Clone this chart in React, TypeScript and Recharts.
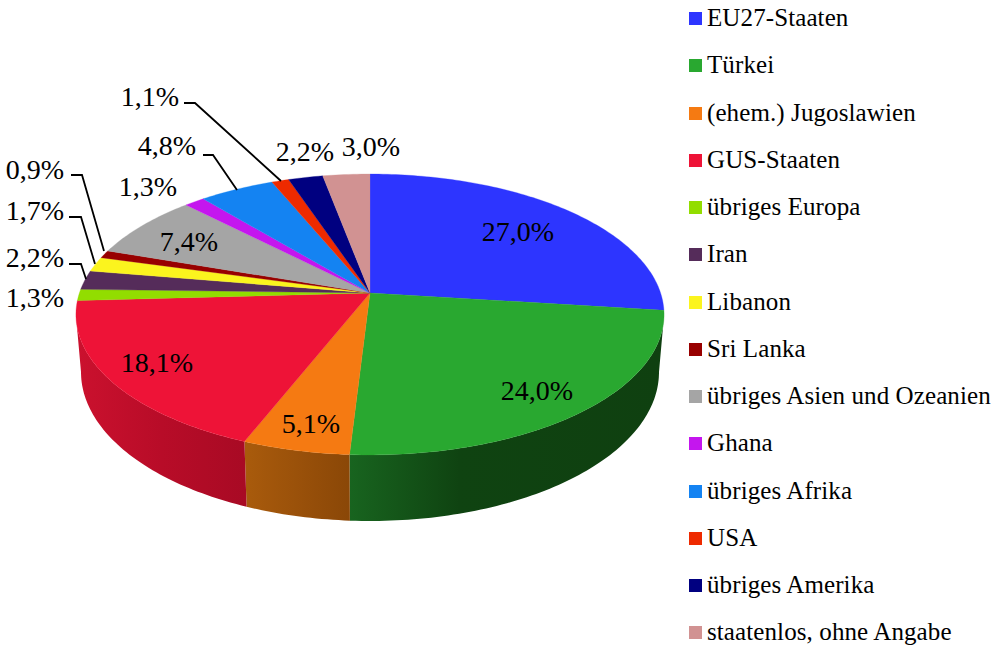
import React from 'react';
import { PieChart, Pie, Legend } from 'recharts';

const NAMES = [
  'EU27-Staaten',
  'Türkei',
  '(ehem.) Jugoslawien',
  'GUS-Staaten',
  'übriges Europa',
  'Iran',
  'Libanon',
  'Sri Lanka',
  'übriges Asien und Ozeanien',
  'Ghana',
  'übriges Afrika',
  'USA',
  'übriges Amerika',
  'staatenlos, ohne Angabe',
];
const SHARES = [27.0, 24.0, 5.1, 18.1, 1.3, 2.2, 1.7, 0.9, 7.4, 1.3, 4.8, 1.1, 2.2, 3.0];
const COLORS = [
  '#2d35ff', '#29a830', '#f57a12', '#ee1337', '#92dd00', '#552c5a', '#fbf41e',
  '#980000', '#a5a5a5', '#c416ee', '#1483f2', '#ee2a00', '#000080', '#d19292',
];

// side wall shading, only the front slices show a wall
const WALL_SHADES: Record<string, [string, string, string]> = {
  'Türkei': ['#18641f', '#0f4311', '#0f4010'],
  '(ehem.) Jugoslawien': ['#a95b0c', '#9a510a', '#8a4707'],
  'GUS-Staaten': ['#cb112e', '#b80c28', '#a80a24'],
};

// label anchor (centre x, baseline y) for each slice
const LABEL_POS: [number, number][] = [
  [518, 241], [537, 400], [311, 433], [157, 372], [35, 307], [35, 267], [35, 220],
  [35, 179], [189, 251], [148, 196], [167, 155], [150, 106], [305, 161], [371, 156],
];
const LEADERS: Record<number, string> = {
  5: '69,264 81,264 86,279',
  6: '69,217 81,217 95,264',
  7: '71,175 82,175 104,251',
  10: '203,155 213,155 237,190',
  11: '184,103 195,103 281,181',
};

const FONT = '"Liberation Serif", serif';
const tableData = NAMES.map((name, i) => ({ name, value: SHARES[i], fill: COLORS[i] }));

// tilted disc: apex is off the ellipse centre because of the perspective
const TILT_B = 0.472;
const TILT_K = 0.153;
const RIM = { rx: 294, cyOff: 21, ry: 141 };
const BASE = { rx: 289, cyOff: 79, ry: 149 };

function project(cx: number, cy: number, r: number, theta: number): [number, number] {
  const x = Math.sin(theta);
  const y = Math.cos(theta);
  const w = 1 + TILT_K * y;
  return [cx + (r * x) / w, cy - (r * TILT_B * y) / w];
}

function renderSlice(props: any) {
  const { cx, cy, outerRadius, startAngle, endAngle, fill, name } = props;
  const from = ((90 - startAngle) * Math.PI) / 180;
  const to = ((90 - endAngle) * Math.PI) / 180;
  const steps = Math.max(2, Math.ceil(((to - from) * 180) / Math.PI));
  const rim: [number, number][] = [];
  for (let i = 0; i <= steps; i++) {
    rim.push(project(cx, cy, outerRadius, from + ((to - from) * i) / steps));
  }
  const top = `M${cx},${cy} ` + rim.map((p) => `L${p[0]},${p[1]}`).join(' ') + ' Z';

  // wall only along the front arc of the rim
  const front = rim.filter((p) => p[1] >= cy + RIM.cyOff);
  let wall = '';
  if (front.length > 1) {
    const lower = front.map((p) => {
      const s = Math.max(-1, Math.min(1, (p[0] - cx) / RIM.rx));
      return [cx + BASE.rx * s, cy + BASE.cyOff + BASE.ry * Math.sqrt(1 - s * s)];
    });
    wall =
      'M' + front.map((p) => `${p[0]},${p[1]}`).join(' L') +
      ' L' + lower.reverse().map((p) => `${p[0]},${p[1]}`).join(' L') + ' Z';
  }
  const shades = WALL_SHADES[name];
  const gradId = `wall-${NAMES.indexOf(name)}`;
  return (
    <g>
      {wall && shades && (
        <>
          <linearGradient id={gradId} x1="0" y1="0" x2="1" y2="0">
            <stop offset="0" stopColor={shades[0]} />
            <stop offset={name === 'Türkei' ? 0.35 : 0.5} stopColor={shades[1]} />
            <stop offset="1" stopColor={shades[2]} />
          </linearGradient>
          <path d={wall} fill={`url(#${gradId})`} />
        </>
      )}
      <path d={top} fill={fill} stroke={fill} strokeWidth={0.3} />
    </g>
  );
}

function renderLabel(props: any) {
  const { index, value } = props;
  const [x, y] = LABEL_POS[index];
  return (
    <g key={index}>
      {LEADERS[index] && (
        <polyline points={LEADERS[index]} fill="none" stroke="#000" strokeWidth={1.8} />
      )}
      <text x={x} y={y} textAnchor="middle" fontFamily={FONT} fontSize={28} fill="#000">
        {value.toFixed(1).replace('.', ',') + '%'}
      </text>
    </g>
  );
}

function renderLegend(props: any) {
  const items = props.payload || [];
  return (
    <div style={{ position: 'relative', width: 1002, height: 645 }}>
      {items.map((item: any, i: number) => (
        <div key={item.value}>
          <div
            style={{
              position: 'absolute',
              left: 689,
              top: 12 + i * 47.25,
              width: 13,
              height: 13,
              background: item.color,
            }}
          />
          <div
            style={{
              position: 'absolute',
              left: 707,
              top: 4 + i * 47.25,
              fontFamily: FONT,
              fontSize: 25,
              letterSpacing: 0.1,
              lineHeight: '28px',
              color: '#000',
              whiteSpace: 'nowrap',
            }}
          >
            {item.value}
          </div>
        </div>
      ))}
    </div>
  );
}

export default function App() {
  return (
    <div style={{ position: 'absolute', left: 0, top: 0 }}>
      <PieChart width={1002} height={645} margin={{ top: 0, right: 0, bottom: 0, left: 0 }}>
        <Pie
          data={tableData}
          dataKey="value"
          nameKey="name"
          cx={370}
          cy={293}
          outerRadius={290.6}
          startAngle={90}
          endAngle={-270}
          stroke="none"
          shape={renderSlice}
          label={renderLabel}
          labelLine={false}
          isAnimationActive={false}
        />
        <Legend
          content={renderLegend}
          itemSorter={null}
          wrapperStyle={{ position: 'absolute', left: 0, top: 0, width: 1002, height: 645 }}
        />
      </PieChart>
    </div>
  );
}
